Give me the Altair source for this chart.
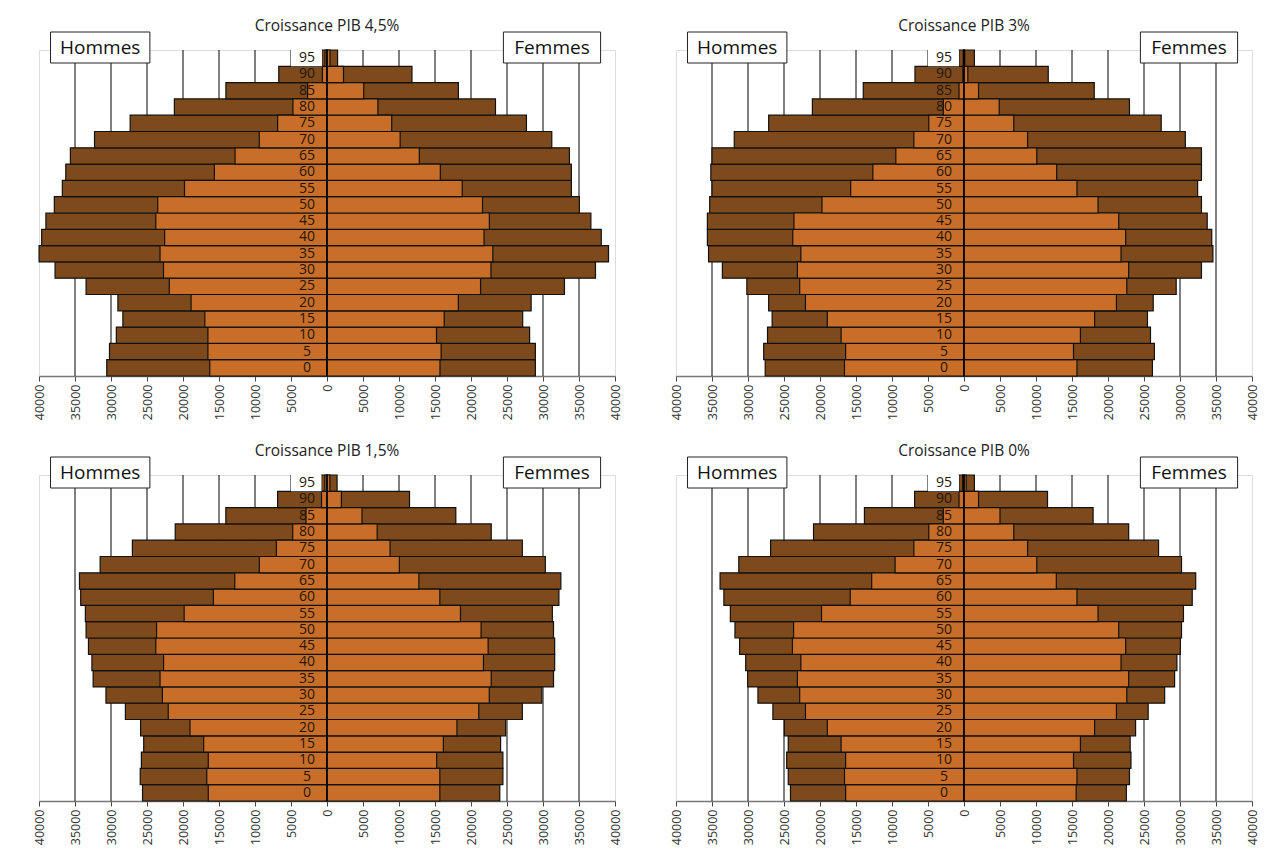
import altair as alt
import pandas as pd

ages = [0, 5, 10, 15, 20, 25, 30, 35, 40, 45, 50, 55, 60, 65, 70, 75, 80, 85, 90, 95]
tick_values = list(range(-40000, 40001, 5000))
grid_values = [v for v in tick_values if abs(v) < 40000 and v != 0]

titles = ["Croissance PIB 4,5%", "Croissance PIB 3%", "Croissance PIB 1,5%", "Croissance PIB 0%"]

# Panel 1 : 4,5 %
p1_men_total = [30590, 30210, 29260, 28350, 29040, 33460, 37770, 39990, 39630, 39040, 37870, 36760, 36280, 35640, 32290, 27340, 21200, 14040, 6700, 690]
p1_men_inner = [16280, 16540, 16540, 16970, 18880, 21910, 22710, 23190, 22550, 23780, 23510, 19790, 15640, 12770, 9410, 6860, 4730, 2700, 640, 280]
p1_women_inner = [15690, 15850, 15210, 16280, 18240, 21330, 22770, 23030, 21810, 22550, 21600, 18780, 15740, 12820, 10160, 8990, 7070, 5100, 2290, 420]
p1_women_total = [28940, 28940, 28140, 27180, 28350, 32980, 37290, 39100, 38090, 36650, 35050, 33940, 33940, 33670, 31220, 27700, 23400, 18250, 11800, 1470]

# Panel 2 : 3 %
p2_men_total = [27610, 27820, 27290, 26650, 27130, 30160, 33560, 35480, 35640, 35640, 35320, 35000, 35160, 35000, 31910, 27130, 21060, 13990, 6810, 690]
p2_men_inner = [16600, 16440, 17070, 18990, 22020, 22820, 23140, 22660, 23780, 23620, 19730, 15740, 12660, 9470, 6970, 4890, 2870, 690, 160, 100]
p2_women_inner = [15690, 15210, 16170, 18140, 21170, 22610, 22870, 21810, 22450, 21490, 18620, 15690, 12870, 10110, 8830, 6910, 4890, 2020, 530, 100]
p2_women_total = [26170, 26440, 25900, 25480, 26280, 29470, 32980, 34570, 34410, 33780, 32980, 32450, 32980, 32980, 30740, 27390, 22980, 18090, 11700, 1440]

# Panel 3 : 1,5 %
p3_men_total = [25620, 25940, 25780, 25460, 25890, 28000, 30700, 32480, 32650, 33130, 33460, 33560, 34210, 34380, 31510, 27030, 21080, 14050, 6860, 760]
p3_men_inner = [16490, 16700, 16490, 17130, 19030, 22050, 22860, 23190, 22700, 23780, 23670, 19840, 15780, 12810, 9400, 7030, 4760, 2920, 760, 300]
p3_women_inner = [15670, 15670, 15240, 16160, 18050, 21080, 22540, 22810, 21730, 22380, 21400, 18540, 15670, 12760, 10050, 8760, 6970, 4860, 2000, 400]
p3_women_total = [24000, 24430, 24430, 24110, 24810, 27130, 29840, 31460, 31620, 31620, 31460, 31300, 32210, 32480, 30320, 27130, 22810, 17890, 11460, 1400]

# Panel 4 : 0 %
p4_men_total = [24100, 24410, 24630, 24410, 24950, 26540, 28620, 30050, 30320, 31170, 31810, 32450, 33350, 33880, 31280, 26860, 20900, 13830, 6860, 690]
p4_men_inner = [16440, 16600, 16440, 17070, 18990, 22020, 22820, 23140, 22660, 23830, 23670, 19790, 15800, 12820, 9570, 6970, 4890, 2870, 690, 200]
p4_women_inner = [15580, 15690, 15210, 16170, 18140, 21170, 22610, 22870, 21810, 22450, 21490, 18620, 15690, 12820, 10110, 8830, 6910, 5000, 2020, 300]
p4_women_total = [22550, 22980, 23190, 23080, 23830, 25580, 27870, 29250, 29570, 30050, 30210, 30480, 31700, 32180, 30210, 27020, 22870, 17930, 11600, 1440]

panels = [
    (p1_men_total, p1_men_inner, p1_women_inner, p1_women_total),
    (p2_men_total, p2_men_inner, p2_women_inner, p2_women_total),
    (p3_men_total, p3_men_inner, p3_women_inner, p3_women_total),
    (p4_men_total, p4_men_inner, p4_women_inner, p4_women_total),
]

DARK = "#7E4A1C"
ORANGE = "#C96E28"
FONT = "Open Sans"
W, H = 576, 326

XSCALE = alt.Scale(domain=[-40000, 40000], nice=False, zero=False)
XAXIS = alt.Axis(values=tick_values, labelExpr="format(abs(datum.value), 'd')",
                 labelAngle=270, grid=False, title=None, domainColor="#777",
                 domainWidth=1.5, tickColor="#444", tickSize=5, labelFont=FONT,
                 labelFontSize=12.5, labelColor="#333", labelPadding=3,
                 labelOverlap=False, labelFlush=False)


def X(field):
    return alt.X(field, type="quantitative", scale=XSCALE, axis=XAXIS)


def make_panel(title, data):
    men_t, men_i, wom_i, wom_t = data
    rows = []
    for k, a in enumerate(ages):
        rows.append({"age": a, "layer": "total", "value": -men_t[k]})
        rows.append({"age": a, "layer": "total", "value": wom_t[k]})
        rows.append({"age": a, "layer": "inner", "value": -men_i[k]})
        rows.append({"age": a, "layer": "inner", "value": wom_i[k]})
    df = pd.DataFrame(rows)
    yenc = alt.Y("age:O", sort="descending", axis=None,
                 scale=alt.Scale(domain=ages[::-1], paddingInner=0, paddingOuter=0))

    grid = alt.Chart(pd.DataFrame({"g": grid_values})).mark_rule(
        color="#000", strokeWidth=1).encode(x=X("g"))

    dark = alt.Chart(df[df.layer == "total"]).mark_bar(
        color=DARK, stroke="#111", strokeWidth=1.2).encode(
        x=X("value"), x2=alt.datum(0), y=yenc)
    inner = alt.Chart(df[df.layer == "inner"]).mark_bar(
        color=ORANGE, stroke="#111", strokeWidth=1.2).encode(
        x=X("value"), x2=alt.datum(0), y=yenc)

    top_df = pd.DataFrame({"age": [95], "x1": [-5000], "x2": [-men_t[-1]]})
    label_bg = alt.Chart(top_df).mark_rect(fill="white").encode(
        x=X("x1"), x2="x2:Q", y=yenc)

    center = alt.Chart(pd.DataFrame({"c": [0]})).mark_rule(
        color="#000", strokeWidth=1.5).encode(x=X("c"))

    age_labels = alt.Chart(pd.DataFrame({"age": ages, "z": [0] * len(ages)})).mark_text(
        font=FONT, fontSize=14, color="#24160a", align="center", baseline="middle", dx=-20
    ).encode(x=X("z"), y=yenc, text="age:O")

    boxes_df = pd.DataFrame({"x1": [-38400, 24500], "x2": [-24600, 38000],
                             "xc": [-31500, 31250], "t": ["Hommes", "Femmes"]})
    boxes = alt.Chart(boxes_df).mark_rect(fill="white", stroke="#222", strokeWidth=1).encode(
        x=X("x1"), x2="x2:Q", y=alt.value(-18), y2=alt.value(13))
    box_text = alt.Chart(boxes_df).mark_text(
        font=FONT, fontSize=19, color="#111", baseline="middle").encode(
        x=X("xc"), y=alt.value(-2), text="t:N")

    ttl = alt.Chart(pd.DataFrame({"t": [title], "z": [0]})).mark_text(
        font=FONT, fontSize=15.5, color="#222", baseline="middle").encode(
        x=X("z"), y=alt.value(-24), text="t:N")

    return alt.layer(grid, dark, inner, label_bg, center, age_labels, boxes, box_text, ttl
                     ).properties(width=W, height=H)


charts = [make_panel(t, d) for t, d in zip(titles, panels)]
row1 = alt.hconcat(charts[0], charts[1], spacing=47)
row2 = alt.hconcat(charts[2], charts[3], spacing=47)
chart = alt.vconcat(row1, row2, spacing=22).properties(
    padding={"left": 24, "top": 10, "right": 5, "bottom": 5}
).configure_view(stroke="#888", strokeWidth=1.5).configure(background="white")

chart.save("out.html", embed_options={"renderer": "svg", "actions": False})
